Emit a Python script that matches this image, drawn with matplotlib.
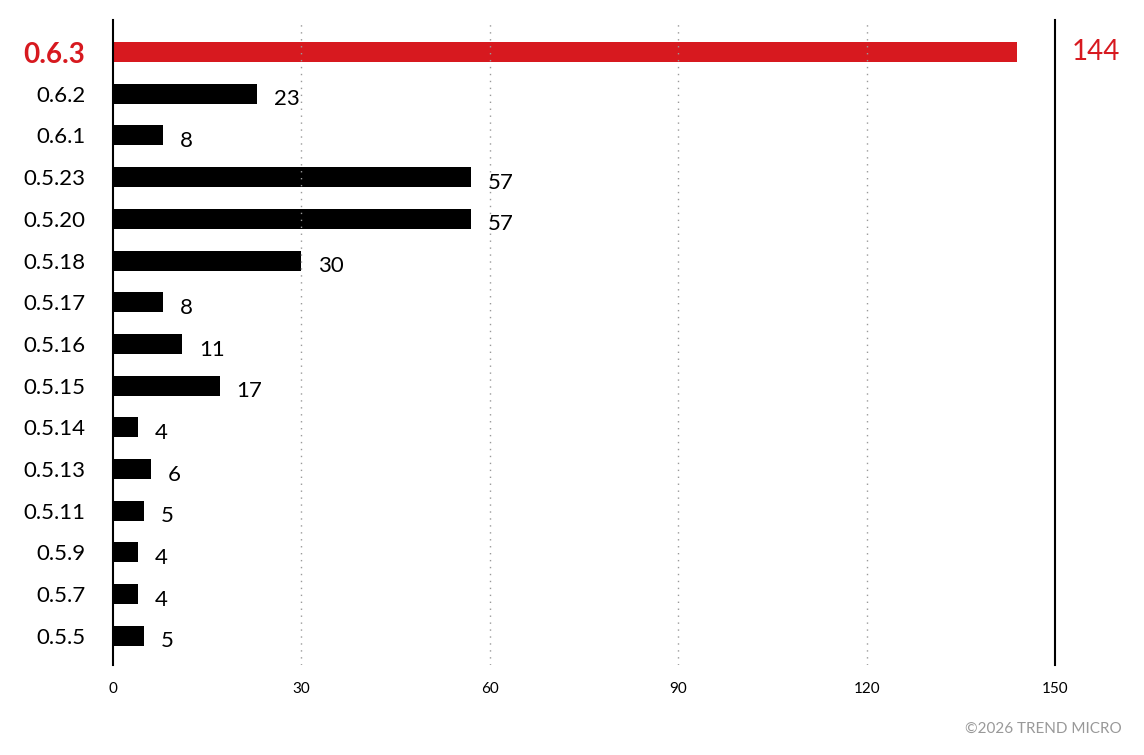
import matplotlib
matplotlib.use("Agg")
import matplotlib.pyplot as plt

versions = ["0.6.3","0.6.2","0.6.1","0.5.23","0.5.20","0.5.18","0.5.17","0.5.16","0.5.15","0.5.14","0.5.13","0.5.11","0.5.9","0.5.7","0.5.5"]
counts = [144,23,8,57,57,30,8,11,17,4,6,5,4,4,5]
xticks = [0,30,60,90,120,150]

RED = "#d7191f"
plt.rcParams['font.family'] = ['Lato', 'DejaVu Sans']
fig = plt.figure(figsize=(11.44,7.55), dpi=100)
ax = fig.add_axes([113/1144, 1-665/755, (1055-113)/1144, (665-20)/755])
y = list(range(len(versions)))
colors = [RED if i == 0 else "black" for i in y]
ax.barh(y, counts, height=0.48, color=colors)
ax.set_ylim(len(versions)-1+0.70, -0.77)
ax.set_xlim(0,150)
ax.set_yticks(y)
ax.set_yticklabels(versions, fontsize=16)
for i, lab in enumerate(ax.get_yticklabels()):
    if i == 0:
        lab.set_color(RED); lab.set_fontsize(20); lab.set_fontweight("bold")
ax.tick_params(axis='y', length=0, pad=20)
ax.set_xticks(xticks)
ax.set_xticklabels([str(t) for t in xticks], fontsize=11)
ax.tick_params(axis='x', length=0, pad=12)
for s in ["top","bottom"]:
    ax.spines[s].set_visible(False)
for s in ["left","right"]:
    ax.spines[s].set_linewidth(1.5)
for t in xticks[1:-1]:
    ax.axvline(t, color="#999999", linestyle=(0,(1,4)), linewidth=1)
for i, v in enumerate(counts):
    if i == 0:
        ax.annotate(str(v), (150, i), xytext=(12,0), textcoords="offset points",
                    va="center", ha="left", color=RED, fontsize=20)
    else:
        ax.annotate(str(v), (v, i), xytext=(12,-4), textcoords="offset points",
                    va="center", ha="left", color="black", fontsize=16)
fig.text(1122/1144, 1-729/755, "©2026 TREND MICRO", ha="right", va="center", fontsize=11, color="#999999")
fig.savefig("out.png", dpi=100)
